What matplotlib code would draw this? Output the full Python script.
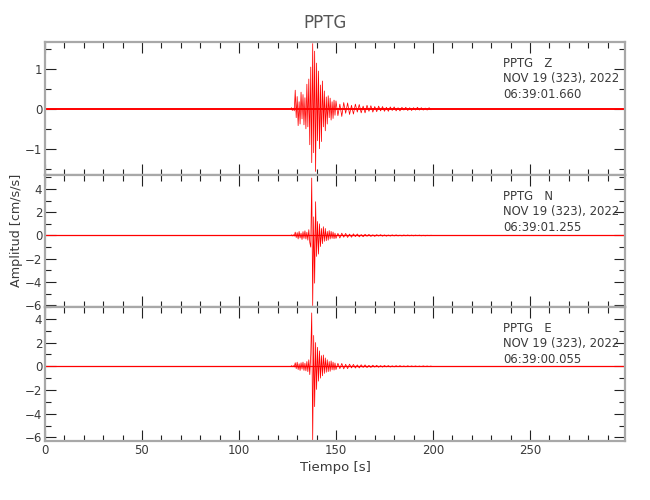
import numpy as np
import matplotlib
matplotlib.use("Agg")
import matplotlib.pyplot as plt
from matplotlib.ticker import MultipleLocator

# sample times (s) of the picked peaks around the event
t_event = [127.0, 127.5, 128.0, 128.5, 129.0, 129.5, 130.0, 130.5, 131.0, 131.5,
           132.0, 132.5, 133.0, 133.5, 134.0, 134.5, 135.0, 135.5, 136.0, 136.5,
           137.0, 137.5, 138.0, 138.5, 139.0, 139.5, 140.0, 140.5, 141.0, 141.5,
           142.0, 142.5, 143.0, 143.5, 144.0, 144.5, 145.0, 145.5, 146.0, 146.5,
           147.0, 147.5, 148.0, 148.5, 149.0, 149.5,
           150, 151, 152, 153, 154, 155, 156, 157, 158, 159,
           160, 161, 162, 163, 164, 165, 166, 167, 168, 169,
           170, 171, 172, 173, 174, 175, 176, 177, 178, 179,
           180, 181, 182, 183, 184, 185, 186, 187, 188, 189,
           190, 191, 192, 193, 194, 195, 196, 197, 198, 199]

# peak amplitudes (cm/s/s)
amp_Z = [0.03, -0.04, 0.02, -0.05, 0.47, -0.22, 0.31, -0.42, 0.18, -0.38,
         0.42, -0.25, 0.36, -0.40, 0.28, -0.50, 0.62, -0.45, 0.75, -0.90,
         1.05, -1.35, 1.64, -1.10, 1.45, -1.57, 1.15, -0.80, 0.95, -1.00,
         0.60, -0.82, 0.70, -0.45, 0.45, -0.55, 0.30, -0.38, 0.33, -0.22,
         0.27, -0.28, 0.18, -0.24, 0.22, -0.16,
         0.20, -0.17, 0.12, -0.19, 0.16, -0.11, 0.15, -0.14, 0.09, -0.13,
         0.12, -0.08, 0.11, -0.10, 0.07, -0.10, 0.09, -0.06, 0.08, -0.08,
         0.06, -0.07, 0.07, -0.05, 0.06, -0.06, 0.04, -0.06, 0.05, -0.04,
         0.05, -0.05, 0.03, -0.05, 0.04, -0.03, 0.04, -0.04, 0.03, -0.04,
         0.03, -0.03, 0.04, -0.03, 0.03, -0.03, 0.02, -0.03, 0.03, -0.02]

amp_N = [0.05, -0.04, 0.06, -0.05, 0.29, -0.18, 0.25, -0.30, 0.35, -0.22,
         0.20, -0.35, 0.33, -0.25, 0.40, -0.30, 0.28, -0.40, 0.50, -0.60,
         -1.00, 4.94, -6.03, 1.60, -4.10, 2.90, -1.80, 1.20, -1.60, 1.00,
         -0.95, 0.60, -0.70, 0.75, -0.50, 0.60, -0.45, 0.35, -0.40, 0.42,
         -0.30, 0.35, -0.25, 0.30, -0.28, 0.20,
         -0.25, 0.18, -0.22, 0.20, -0.15, 0.18, -0.17, 0.12, -0.15, 0.14,
         -0.10, 0.13, -0.12, 0.08, -0.11, 0.10, -0.07, 0.09, -0.08, 0.06,
         -0.08, 0.07, -0.05, 0.07, -0.06, 0.05, -0.06, 0.04, -0.05, 0.05,
         -0.04, 0.05, -0.04, 0.03, -0.04, 0.04, -0.03, 0.04, -0.03, 0.03,
         -0.03, 0.03, -0.02, 0.03, -0.03, 0.02, -0.03, 0.02, -0.02, 0.02]

amp_E = [0.05, -0.04, 0.05, -0.06, 0.30, -0.20, 0.35, -0.28, 0.22, -0.35,
         0.30, -0.24, 0.35, -0.35, 0.25, -0.38, 0.40, -0.45, 0.55, -0.70,
         1.00, 4.50, -6.20, 2.60, -3.40, 2.00, -1.95, 1.60, -1.25, 1.30,
         -1.00, 0.90, -0.80, 0.95, -0.60, 0.70, -0.50, 0.55, -0.45, 0.40,
         -0.42, 0.45, -0.30, 0.35, -0.32, 0.28,
         -0.28, 0.25, -0.20, 0.24, -0.22, 0.17, -0.20, 0.18, -0.14, 0.16,
         -0.15, 0.12, -0.14, 0.13, -0.10, 0.12, -0.11, 0.08, -0.10, 0.09,
         -0.07, 0.08, -0.08, 0.06, -0.07, 0.07, -0.05, 0.06, -0.06, 0.04,
         -0.05, 0.05, -0.04, 0.05, -0.04, 0.03, -0.04, 0.04, -0.03, 0.03,
         -0.03, 0.03, -0.03, 0.02, -0.03, 0.03, -0.02, 0.02, -0.02, 0.02]

record_span = [0.0, 299.0]
channels = ["Z", "N", "E"]
start_times = ["06:39:01.660", "06:39:01.255", "06:39:00.055"]
date_label = "NOV 19 (323), 2022"
station = "PPTG"
ylims = [(-1.66, 1.68), (-6.15, 5.2), (-6.3, 5.0)]
y_major = [1, 2, 2]
y_minor = [0.5, 1, 1]

FONT = ["DejaVu Sans"]
TXT = "#3a3a3a"
SPINE = "#a8a8a8"

fig = plt.figure(figsize=(6.5, 5), dpi=100)
left, right = 45 / 650, 625 / 650
edges = [42, 175, 307, 441]

traces = [amp_Z, amp_N, amp_E]
for i, (ch, amp) in enumerate(zip(channels, traces)):
    top = 1 - edges[i] / 500
    bot = 1 - edges[i + 1] / 500
    ax = fig.add_axes([left, bot, right - left, top - bot])
    # quiet background
    ax.plot(record_span, [0, 0], color="red", lw=1.4 if i == 0 else 0.9)
    ax.plot(t_event, amp, color="red", lw=0.55)
    ax.set_xlim(record_span)
    ax.set_ylim(ylims[i])
    ax.xaxis.set_major_locator(MultipleLocator(50))
    ax.xaxis.set_minor_locator(MultipleLocator(10))
    ax.yaxis.set_major_locator(MultipleLocator(y_major[i]))
    ax.yaxis.set_minor_locator(MultipleLocator(y_minor[i]))
    ax.tick_params(which="both", direction="in", top=True, right=True,
                   colors="#222222", labelcolor=TXT, labelsize=8.5, width=0.8, pad=2)
    ax.tick_params(which="major", length=8)
    ax.tick_params(which="minor", length=4)
    for s in ax.spines.values():
        s.set_color(SPINE)
        s.set_linewidth(1.6)
    if i < 2:
        ax.set_xticklabels([])
    ax.text(0.79, 0.89, f"{station}   {ch}\n{date_label}\n{start_times[i]}",
            transform=ax.transAxes, ha="left", va="top", fontsize=8.4,
            color=TXT, family=FONT, linespacing=1.25)
    if i == 2:
        ax.set_xlabel("Tiempo [s]", fontsize=9.5, color=TXT, family=FONT, labelpad=3)

fig.text(0.5, 0.955, station, ha="center", va="center", fontsize=12,
         color="#555555", family=FONT)
fig.text(0.026, 0.54, "Amplitud [cm/s/s]", rotation=90, ha="center", va="center",
         fontsize=9.2, color=TXT, family=FONT)

fig.savefig("out.png", dpi=100)
